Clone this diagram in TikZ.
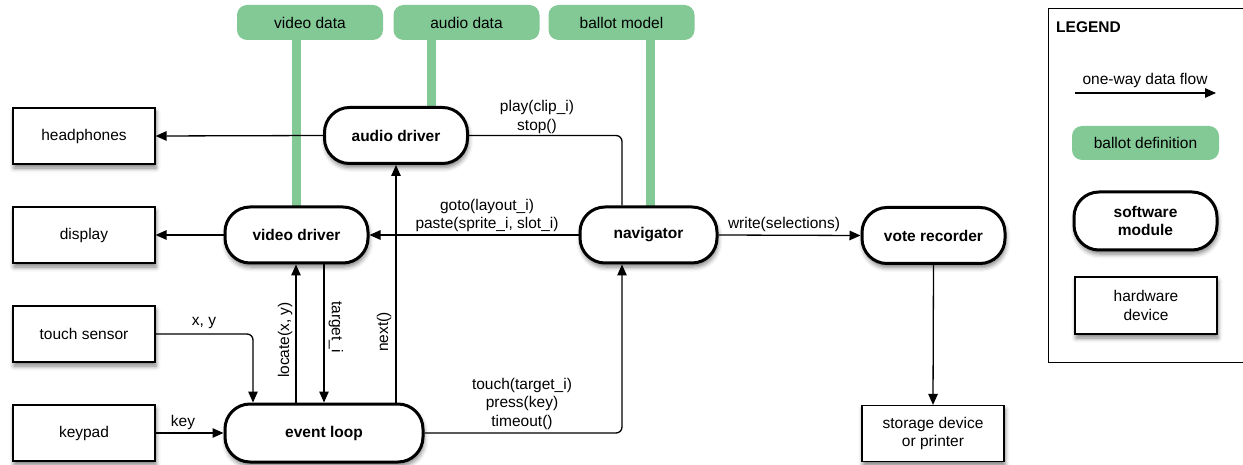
\documentclass[tikz,border=0pt]{standalone}
\usepackage{fontspec}
\setmainfont{Liberation Sans}
\usetikzlibrary{arrows.meta,shadows.blur}
\definecolor{ballotgreen}{RGB}{130,201,150}
\tikzset{
  x=1pt, y=-1pt,
  every node/.style={font=\fontsize{15.5pt}{18.5pt}\selectfont, inner sep=0pt},
  myshadow/.style={blur shadow={shadow xshift=1pt, shadow yshift=-4pt, shadow blur radius=4.5pt, shadow opacity=50}},
  hw/.style={draw, line width=1.2pt, fill=white, minimum width=142pt, minimum height=56pt, align=center, myshadow},
  sw/.style={draw, line width=3pt, fill=white, rounded corners=25pt, minimum width=143pt, minimum height=56pt, font=\fontsize{15.5pt}{18.5pt}\selectfont\bfseries, align=center, myshadow},
  data/.style={fill=ballotgreen, rounded corners=10pt, minimum width=146pt, minimum height=35pt},
  stem/.style={draw=ballotgreen, line width=9pt},
  conn/.style={draw, line width=1.3pt, rounded corners=6pt},
  arr/.style={conn, -{Triangle[length=11pt,width=9.5pt]}},
  lbl/.style={align=center}
}
\begin{document}
\begin{tikzpicture}
\useasboundingbox (0,0) rectangle (1243,465);
% ballot definition data
\node[data] (vdata) at (310,22.5) {video data};
\node[data] (adata) at (466.5,22.5) {audio data};
\node[data] (bmodel) at (621.5,22.5) {ballot model};
\coordinate (vstem) at (296.5,40);
\coordinate (astem) at (431,40);
\coordinate (bstem) at (650.5,40);
\coordinate (vstemend) at (296.5,210);
\coordinate (astemend) at (431,110);
\coordinate (bstemend) at (650.5,210);
\draw[stem] (vstem) -- (vstemend);
\draw[stem] (astem) -- (astemend);
\draw[stem] (bstem) -- (bstemend);
% hardware
\node[hw] (hp) at (84,136) {headphones};
\node[hw] (disp) at (84,235) {display};
\node[hw] (ts) at (84,334) {touch sensor};
\node[hw] (kp) at (84,433) {keypad};
\node[hw] (st) at (933,433.5) {storage device\\or printer};
% software
\node[sw] (ad) at (396,135.5) {audio driver};
\node[sw] (vd) at (296.5,235) {video driver};
\node[sw, minimum width=137pt] (nav) at (648.5,235) {navigator};
\node[sw] (vr) at (933.5,235.5) {vote recorder};
\node[sw, minimum width=198pt, minimum height=58pt] (el) at (324,433) {event loop};
% connectors
\draw[arr] (ad.west) -- (hp.east);
\draw[arr] (vd.west) -- (disp.east);
\draw[arr] (nav.west) -- (vd.east);
\draw[conn] (622,0 |- nav.north) -- (622,135.5) -- (ad.east);
\draw[arr] (nav.east) -- (vr.west);
\draw[arr] (vr.south) -- (st.north);
\draw[arr] (ts.east) -- (253,334) -- (253,0 |- el.north);
\draw[arr] (kp.east) -- (el.west);
\draw[arr] (296,0 |- el.north) -- (296,0 |- vd.south);
\draw[arr] (324,0 |- vd.south) -- (324,0 |- el.north);
\draw[arr] (396,0 |- el.north) -- (ad.south);
\draw[arr] (el.east) -- (622,433) -- (622,0 |- nav.south);
% labels
\node[lbl] (lgoto) at (487,215.5) {goto(layout\_i)\\paste(sprite\_i, slot\_i)};
\node[lbl] (lplay) at (537,117) {play(clip\_i)\\stop()};
\node[lbl] (lwrite) at (784,224) {write(selections)};
\node[lbl] (lxy) at (204,323) {x, y};
\node[lbl] (lkey) at (183,422) {key};
\node[lbl, rotate=90] (lloc) at (285,340) {locate(x, y)};
\node[lbl, rotate=-90] (ltarg) at (336,327) {target\_i};
\node[lbl, rotate=90] (lnext) at (384,332) {next()};
\node[lbl] (ltouch) at (522,403.5) {touch(target\_i)\\press(key)\\timeout()};
% legend
\node[draw, line width=1.2pt, minimum width=210pt, minimum height=354pt, anchor=north west] (legend) at (1048,8) {};
\node[anchor=west, font=\fontsize{15.5pt}{18.5pt}\selectfont\bfseries] (ltitle) at (1056,27) {LEGEND};
\node (lflow) at (1145,80) {one-way data flow};
\coordinate (lfa) at (1075,93);
\coordinate (lfb) at (1216,93);
\draw[arr] (lfa) -- (lfb);
\node[data, minimum width=147pt, minimum height=34pt] (lbd) at (1145.5,143) {ballot definition};
\node[sw, minimum height=58pt] (lsm) at (1145.5,221) {software\\module};
\node[hw, minimum height=57pt] (lhd) at (1146,305.5) {hardware\\device};
\end{tikzpicture}
\end{document}
